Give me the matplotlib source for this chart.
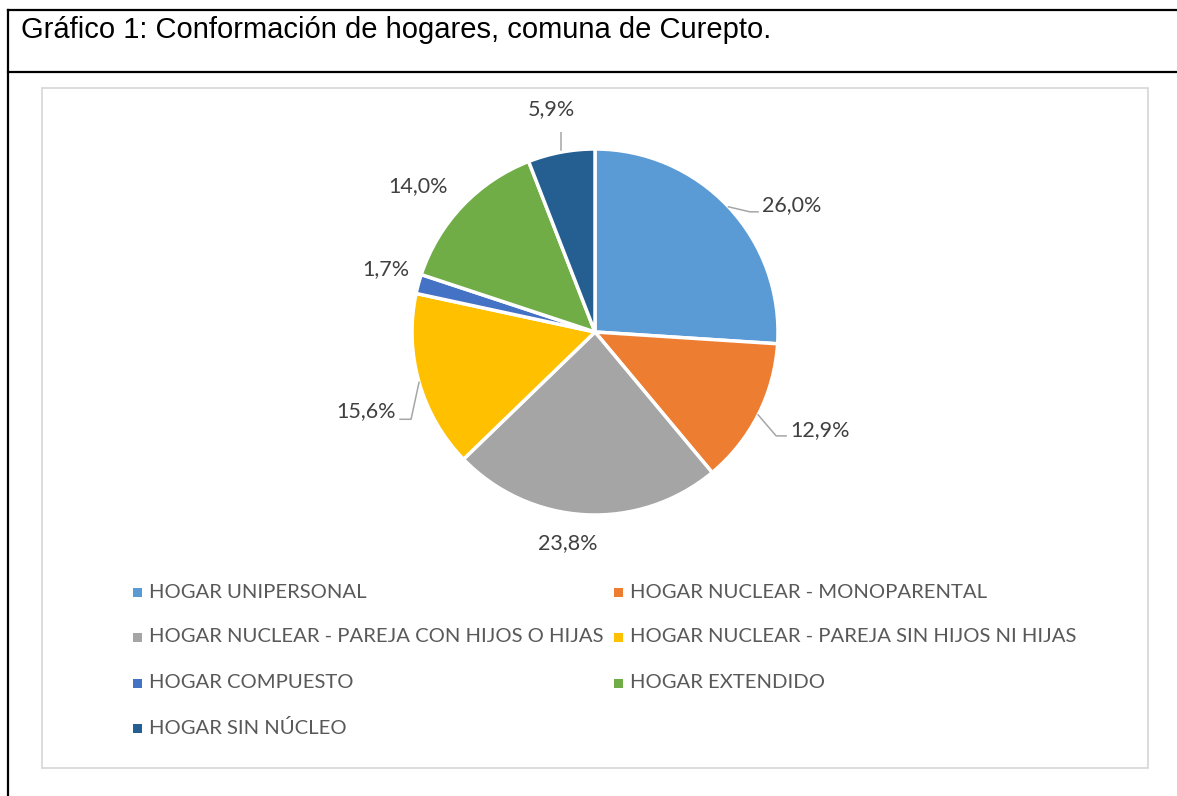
import numpy as np
import matplotlib
matplotlib.use("Agg")
import matplotlib.pyplot as plt
from matplotlib.patches import Rectangle

# datos del gráfico
categorias = [
    'HOGAR UNIPERSONAL',
    'HOGAR NUCLEAR - MONOPARENTAL',
    'HOGAR NUCLEAR - PAREJA CON HIJOS O HIJAS',
    'HOGAR NUCLEAR - PAREJA SIN HIJOS NI HIJAS',
    'HOGAR COMPUESTO',
    'HOGAR EXTENDIDO',
    'HOGAR SIN NÚCLEO',
]
porcentajes = [26.0, 12.9, 23.8, 15.6, 1.7, 14.0, 5.9]
colores = ['#5B9BD5', '#ED7D31', '#A5A5A5', '#FFC000', '#4472C4', '#70AD47', '#255E91']
titulo = 'Gráfico 1: Conformación de hogares, comuna de Curepto.'

W, H = 1177, 796
fig = plt.figure(figsize=(W / 100, H / 100), dpi=100)

# capa de fondo en pixeles
bg = fig.add_axes([0, 0, 1, 1])
bg.set_xlim(0, W)
bg.set_ylim(H, 0)
bg.axis('off')

# marco tipo tabla
bg.plot([8, W], [10, 10], color='black', lw=1.6)
bg.plot([8, W], [72, 72], color='black', lw=1.6)
bg.plot([8, 8], [10, H], color='black', lw=1.6)
bg.text(21, 38, titulo, fontsize=21, family='Liberation Sans', va='baseline', ha='left')

# caja del area del grafico
bg.add_patch(Rectangle((42, 88), 1106, 680, fill=False, edgecolor='#d9d9d9', lw=1.3))

# leyenda manual (orden por filas, 2 columnas)
col_x = [137, 618]
fila_y = [592, 637, 683, 728]
for i, (cat, col) in enumerate(zip(categorias, colores)):
    r, c = divmod(i, 2)
    x, y = col_x[c], fila_y[r]
    bg.add_patch(Rectangle((x - 4.5, y - 4.5), 9, 9, facecolor=col, edgecolor='none'))
    bg.text(x + 12, y, cat, fontsize=14.6, family='Lato', color='#595959', va='center', ha='left')

# torta
cx, cy, R = 595, 332, 183
half = 200
ax = fig.add_axes([(cx - half) / W, (H - cy - half) / H, 2 * half / W, 2 * half / H])
wedges, _ = ax.pie(porcentajes, colors=colores, startangle=90, counterclock=False,
                   radius=1, wedgeprops=dict(edgecolor='white', linewidth=2.5))
ax.set_xlim(-half / R, half / R)
ax.set_ylim(-half / R, half / R)
ax.set_aspect('equal')
ax.axis('off')

PX = 1.0 / R
# desplazamientos de etiquetas en pixeles (x derecha, y abajo) desde el borde
label_off = [(63.5, -2), (62, 15), (-17, 28), (-53, 29), (-33, -15), (-44, -20), (-10, -43)]
leaders = {
    0: [(0, 0), (21.5, 5), (29.5, 5)],
    1: [(0, 0), (18, 21), (28, 21)],
    3: [(0, 0), (-8, 37), (-19, 37)],
    6: [(0, -2), (0, -24)],
}
for i, w in enumerate(wedges):
    ang = np.deg2rad((w.theta1 + w.theta2) / 2)
    ex, ey = np.cos(ang), np.sin(ang)
    dx, dy = label_off[i]
    txt = f'{porcentajes[i]:.1f}%'.replace('.', ',')
    ax.text(ex + dx * PX, ey - dy * PX, txt, fontsize=15.5, family='Lato',
            color='#404040', ha='center', va='center')
    if i in leaders:
        pts = leaders[i]
        ax.plot([ex + p[0] * PX for p in pts], [ey - p[1] * PX for p in pts],
                color='#a6a6a6', lw=1.1)

fig.savefig('out.png', dpi=100)
